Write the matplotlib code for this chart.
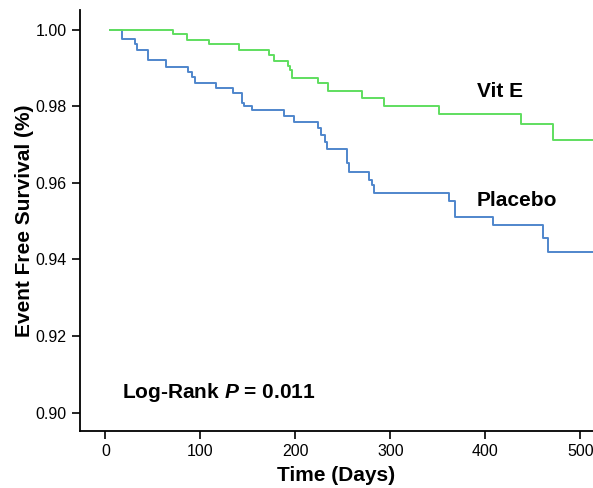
import matplotlib
matplotlib.use('Agg')
import matplotlib.pyplot as plt

plt.rcParams['font.family'] = ['Liberation Sans', 'DejaVu Sans']
plt.rcParams['mathtext.fontset'] = 'custom'
plt.rcParams['mathtext.it'] = 'Liberation Sans:italic:bold'

# Kaplan-Meier step data (day, survival after the drop)
vit_days = [5, 70.7, 85.5, 109, 140.5, 172, 177, 191.8, 194, 196.3, 223.4, 234,
            270.3, 293.5, 351, 437, 470.7, 520]
vit_surv = [1.0, 0.9988, 0.99726, 0.99614, 0.99457, 0.99334, 0.99185, 0.9905,
            0.98943, 0.98734, 0.98595, 0.98395, 0.98204, 0.98003, 0.97794,
            0.97533, 0.97124, 0.97124]

pla_days = [5, 17.7, 31, 32.8, 45, 63.7, 86.5, 90.7, 94.2, 116, 134.5, 143.4, 146,
            154.5, 188.2, 198.7, 223.4, 226.8, 231, 233.7, 254, 256.6, 277.7,
            280.2, 283, 362, 368, 408.2, 460.8, 466.1, 520]
pla_surv = [1.0, 0.99744, 0.99614, 0.99465, 0.99204, 0.99029, 0.98898, 0.98768,
            0.98596, 0.98465, 0.98335, 0.98074, 0.98011, 0.97899, 0.97755,
            0.97594, 0.97421, 0.97246, 0.97071, 0.96873, 0.96508, 0.96294,
            0.96072, 0.95941, 0.95733, 0.95519, 0.95114, 0.94897, 0.9455,
            0.942, 0.942]

xticks = [0, 100, 200, 300, 400, 500]
yticks = [0.90, 0.92, 0.94, 0.96, 0.98, 1.00]

fig = plt.figure(figsize=(5.93, 4.88), dpi=100)
ax = fig.add_axes([80/593, 57/488, 513/593, 421/488])

ax.step(pla_days, pla_surv, where='post', color='#4f86cc', lw=1.4)
ax.step(vit_days, vit_surv, where='post', color='#5fde5f', lw=1.4)

ax.set_xlim(-26.8, 513.2)
ax.set_ylim(0.8952, 1.0051)
ax.set_xticks(xticks)
ax.set_yticks(yticks)
ax.set_yticklabels(['%.2f' % v for v in yticks])
ax.tick_params(labelsize=11.5, length=6, width=1.2)

for s in ['top', 'right']:
    ax.spines[s].set_visible(False)
for s in ['left', 'bottom']:
    ax.spines[s].set_linewidth(1.3)

ax.set_xlabel('Time (Days)', fontsize=15, fontweight='bold', labelpad=5)
ax.set_ylabel('Event Free Survival (%)', fontsize=15, fontweight='bold', labelpad=1)

ax.text(390.7, 0.98377, 'Vit E', fontsize=15, fontweight='bold', va='center')
ax.text(390.7, 0.9555, 'Placebo', fontsize=15, fontweight='bold', va='center')
ax.text(17.4, 0.90512, 'Log-Rank $P$ = 0.011', fontsize=15,
        fontweight='bold', va='center')

plt.savefig('out.png', dpi=100)
